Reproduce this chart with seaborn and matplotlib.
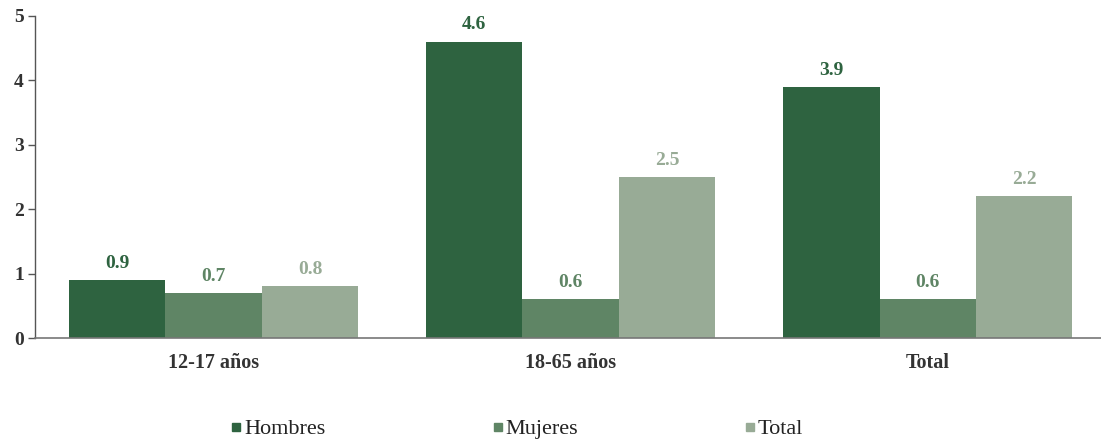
import matplotlib
matplotlib.use("Agg")
import matplotlib.pyplot as plt
from matplotlib.lines import Line2D
import seaborn as sns
import pandas as pd

# Data
groups = ["12-17 años", "18-65 años", "Total"]
series = ["Hombres", "Mujeres", "Total"]
hombres = [0.9, 4.6, 3.9]
mujeres = [0.7, 0.6, 0.6]
total = [0.8, 2.5, 2.2]
y_ticks = [0, 1, 2, 3, 4, 5]

colors = ["#2e6340", "#5f8565", "#98ab96"]

rows = []
for name, vals in zip(series, [hombres, mujeres, total]):
    for g, v in zip(groups, vals):
        rows.append({"grupo": g, "serie": name, "valor": v})
df = pd.DataFrame(rows)

sns.set_style("white")
plt.rcParams["font.family"] = ["Liberation Serif", "DejaVu Serif"]

fig = plt.figure(figsize=(11.01, 4.40), dpi=100)
ax = fig.add_axes([35 / 1101, 102 / 440, 1 - 35 / 1101, 322 / 440])

sns.barplot(data=df, x="grupo", y="valor", hue="serie", order=groups,
            hue_order=series, palette=colors, width=0.81, saturation=1,
            linewidth=0, ax=ax, legend=False)

for cont, col in zip(ax.containers, colors):
    ax.bar_label(cont, fmt="%.1f", padding=6, color=col, fontsize=14,
                 fontweight="bold")

ax.set_xlim(-0.5, 2.485)
ax.set_ylim(0, 5)
ax.set_yticks(y_ticks)
ax.set_yticklabels([str(t) for t in y_ticks], fontsize=14, fontweight="bold",
                   color="#333333")
ax.set_xticks(range(len(groups)))
ax.set_xticklabels(groups, fontsize=14.5, fontweight="bold", color="#333333")
ax.set_xlabel("")
ax.set_ylabel("")

ax.tick_params(axis="y", which="major", direction="out", length=5, width=1,
               color="#555555", pad=3, left=True)
ax.tick_params(axis="x", length=0, pad=11)
for s in ["top", "right"]:
    ax.spines[s].set_visible(False)
ax.spines["left"].set_color("#555555")
ax.spines["left"].set_linewidth(1)
ax.spines["bottom"].set_color("#777777")
ax.spines["bottom"].set_linewidth(1.2)

handles = [Line2D([0], [0], marker="s", linestyle="none", markersize=6,
                  markerfacecolor=c, markeredgecolor=c) for c in colors]
fig.legend(handles, series, loc="center", bbox_to_anchor=(517 / 1101, 11 / 440),
           ncol=3, frameon=False, fontsize=16, handlelength=0.5,
           handletextpad=0.1, columnspacing=7.5, labelcolor="#222222")

fig.savefig("out.png", dpi=100)
